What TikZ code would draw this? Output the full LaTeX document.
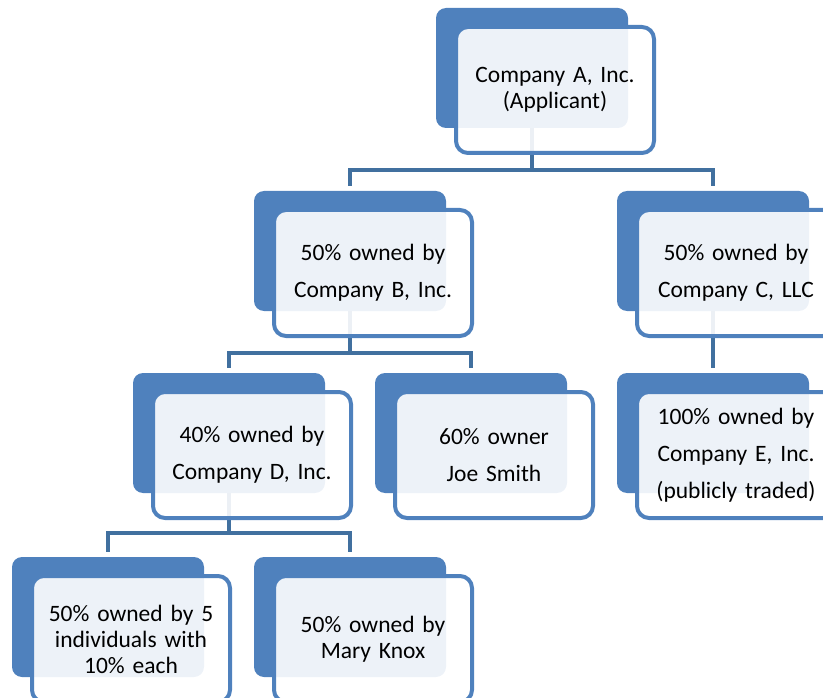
\documentclass[tikz,border=0pt]{standalone}
\usepackage{fontspec}
\setmainfont{Carlito}
\usepackage{tikz}
\usetikzlibrary{calc}
\definecolor{accent}{HTML}{4F81BD}
\definecolor{linkblue}{HTML}{41709F}

\begin{document}
\begin{tikzpicture}[x=1pt,y=-1pt]
	\useasboundingbox (0,0) rectangle (823,698);
	\tikzstyle{link}=[draw=linkblue,line width=4pt];
	\tikzstyle{loose}=[font=\fontsize{23.5}{37}\selectfont];
	\tikzstyle{tight}=[font=\fontsize{23.5}{26}\selectfont];
	\tikzstyle{every node}=[fill=accent,rounded corners=10pt,minimum width=192pt,minimum height=120pt,inner sep=0pt];
	\node (Ab) at (532, 68) {};
	\node (Bb) at (350,251) {};
	\node (Cb) at (713,251) {};
	\node (Db) at (229,433) {};
	\node (Jb) at (471,433) {};
	\node (Eb) at (713,433) {};
	\node (Fb) at (108,617) {};
	\node (Gb) at (350,617) {};
	\draw[link] (Ab.south) -- ++(0,42) -| ([yshift=5pt]Bb.north);
	\draw[link] (Ab.south) -- ++(0,42) -| ([yshift=5pt]Cb.north);
	\draw[link] (Bb.south) -- ++(0,42) -| ([yshift=5pt]Db.north);
	\draw[link] (Bb.south) -- ++(0,42) -| ([yshift=5pt]Jb.north);
	\draw[link] (Cb.south) -- ([yshift=5pt]Eb.north);
	\draw[link] (Db.south) -- ++(0,40) -| ([yshift=5pt]Fb.north);
	\draw[link] (Db.south) -- ++(0,40) -| ([yshift=5pt]Gb.north);
	\tikzstyle{every node}=[draw=accent,line width=4pt,fill=white,fill opacity=0.9,text opacity=1,rounded corners=12pt,minimum width=198pt,minimum height=126pt,inner sep=0pt,text width=196pt,align=center];
	\node[tight] (A) at ($(Ab)+(23,22)$) {Company A, Inc.\\(Applicant)};
	\node[loose] (B) at ($(Bb)+(23,22)$) {50\% owned by\\Company B, Inc.};
	\node[loose] (C) at ($(Cb)+(23,22)$) {50\% owned by\\Company C, LLC};
	\node[loose] (D) at ($(Db)+(23,22)$) {40\% owned by\\Company D, Inc.};
	\node[loose] (J) at ($(Jb)+(23,22)$) {60\% owner\\Joe Smith};
	\node[loose] (E) at ($(Eb)+(23,22)$) {100\% owned by\\Company E, Inc.\\(publicly traded)};
	\node[tight] (F) at ($(Fb)+(23,22)$) {50\% owned by 5\\individuals with\\10\% each};
	\node[tight] (G) at ($(Gb)+(23,22)$) {50\% owned by\\Mary Knox};
\end{tikzpicture}
\end{document}
